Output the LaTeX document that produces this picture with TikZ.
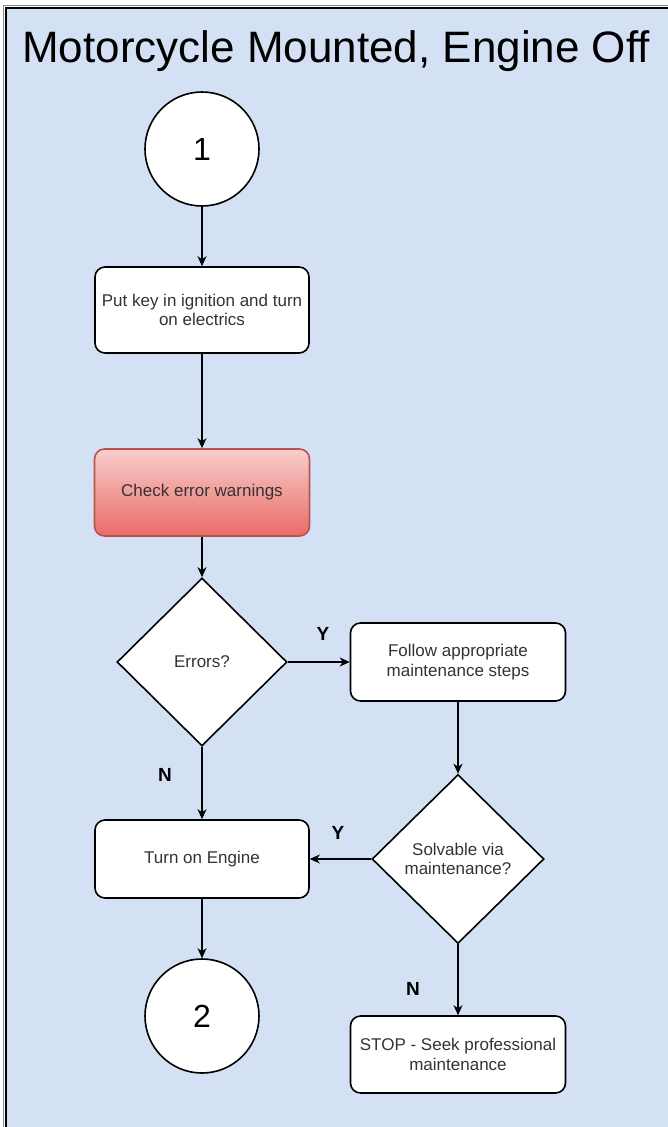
\documentclass[tikz,border=0pt]{standalone}
\usepackage{fontspec}
\setmainfont{Liberation Sans}
\usetikzlibrary{shapes.geometric,arrows.meta}

\definecolor{lanebg}{HTML}{D4E1F5}
\definecolor{lanegray}{HTML}{8A8A8A}
\definecolor{txt}{HTML}{333333}
\definecolor{redtop}{HTML}{F8CECC}
\definecolor{redbot}{HTML}{EA6B66}
\definecolor{redline}{HTML}{B85450}

\tikzset{
  boxtext/.style={font=\fontsize{17}{19.5}\selectfont, text=txt, align=center},
  stepbox/.style={boxtext, draw=black, line width=1.6pt, fill=white,
    rounded corners=10pt, inner sep=2pt},
  alertbox/.style={stepbox, draw=redline, top color=redtop, bottom color=redbot},
  decision/.style={boxtext, diamond, draw=black, line width=1.6pt, fill=white,
    inner sep=0pt},
  connector/.style={circle, draw=black, line width=1.6pt, fill=white,
    minimum size=114pt, inner sep=0pt, font=\fontsize{32}{32}\selectfont},
  flow/.style={line width=1.2pt, -{Stealth[length=10pt,width=9pt,inset=3pt]}},
  branch/.style={font=\fontsize{19}{19}\selectfont\bfseries}
}

\begin{document}
\begin{tikzpicture}[x=1pt, y=-1pt]
  \useasboundingbox (0,0) rectangle (668,1127);

  % swimlane background and frame
  \fill[lanebg] (6,8) rectangle (668,1127);
  \draw[lanegray, line width=1pt] (3.5,1127) -- (3.5,5.5) -- (668,5.5);
  \draw[black, line width=1.6pt] (6,1127) -- (6,8) -- (668,8);
  \node[anchor=base west, inner sep=0pt, font=\fontsize{44}{44}\selectfont]
    (title) at (22,62) {Motorcycle Mounted, Engine Off};

  % left column
  \node[connector] (start) at (202,149) {1};
  \node[stepbox, minimum width=214pt, minimum height=86pt] (key) at (202,310)
    {Put key in ignition and turn\\on electrics};
  \node[alertbox, minimum width=215pt, minimum height=87pt] (check) at (202,492.5)
    {Check error warnings};
  \node[decision, minimum width=170pt, minimum height=168pt] (errors) at (202,662)
    {Errors?};
  \node[stepbox, minimum width=214pt, minimum height=78pt] (engine) at (202,859)
    {Turn on Engine};
  \node[connector] (finish) at (202,1016) {2};

  % right column
  \node[stepbox, minimum width=215pt, minimum height=78pt] (follow) at (458,662)
    {Follow appropriate\\maintenance steps};
  \node[decision, minimum width=172pt, minimum height=169pt] (solvable) at (458,859)
    {Solvable via\\maintenance?};
  \node[stepbox, minimum width=215pt, minimum height=77pt] (stop) at (458,1054.5)
    {STOP - Seek professional\\maintenance};

  % connectors
  \draw[flow] (start) -- (key);
  \draw[flow] (key) -- (check);
  \draw[flow] (check) -- (errors);
  \draw[flow] (errors.east) -- (follow.west);
  \draw[flow] (follow) -- (solvable);
  \draw[flow] (solvable.west) -- (engine.east);
  \draw[flow] (errors.south) -- (engine.north);
  \draw[flow] (engine) -- (finish);
  \draw[flow] (solvable.south) -- (stop.north);

  % branch labels
  \node[branch] (yes1) at (323,634) {Y};
  \node[branch] (no1) at (165,775) {N};
  \node[branch] (yes2) at (338,833) {Y};
  \node[branch] (no2) at (413,989) {N};
\end{tikzpicture}
\end{document}
